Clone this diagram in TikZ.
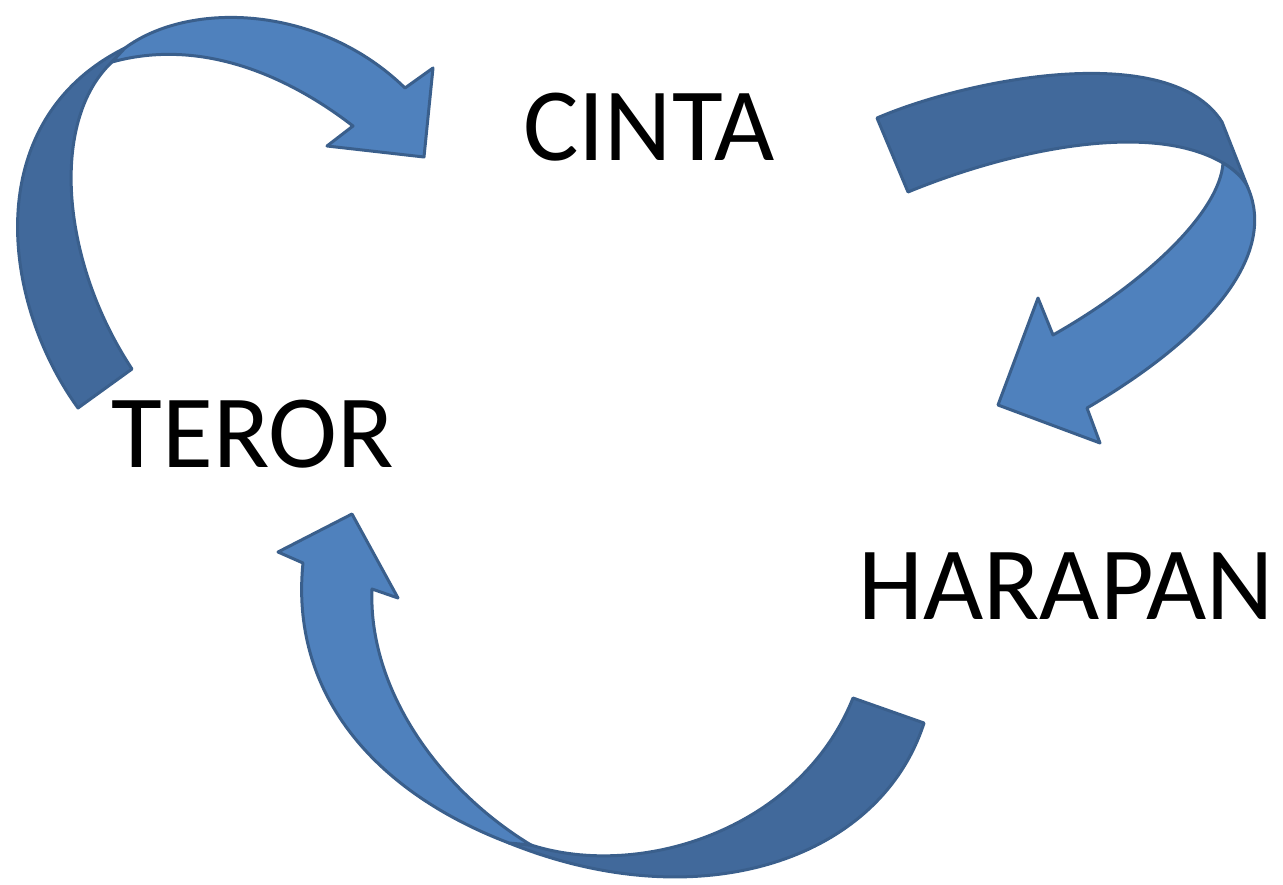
\documentclass[tikz,border=0pt]{standalone}
\usepackage{fontspec}
\setmainfont{Carlito}
\begin{document}
\begin{tikzpicture}[x=1pt,y=-1pt,
  darkpart/.style={fill=arrowdark,draw=arrowline,line width=3pt,line join=round},
  lightpart/.style={fill=arrowlight,draw=arrowline,line width=3pt,line join=round},
  word/.style={font=\fontsize{104}{110}\selectfont,inner sep=0pt,text=black}]
\definecolor{arrowlight}{HTML}{4F81BD}
\definecolor{arrowdark}{HTML}{41699B}
\definecolor{arrowline}{HTML}{3A5F8C}
\useasboundingbox (0,0) rectangle (1283,884);
% texts
\node[word] (cinta) at (649,127) {CINTA};
\node[word] (teror) at (253,434) {TEROR};
\node[word] (harapan) at (1066,586) {HARAPAN};
% arrow 1: TEROR -> CINTA
\draw[darkpart] (78,408) .. controls (0,300) and (-20,120) .. (125,48)
  -- (112,62) .. controls (50,120) and (60,260) .. (132,369) -- cycle;
\draw[lightpart] (125,48) .. controls (190,0) and (320,5) .. (405,88)
  -- (433,68) -- (424,157) -- (327,146) -- (353,126)
  .. controls (300,85) and (210,35) .. (112,62) -- cycle;
% arrow 2: CINTA -> HARAPAN
\draw[darkpart] (877,118) .. controls (970,78) and (1170,40) .. (1222,122)
  -- (1248,188) .. controls (1245,180) and (1235,170) .. (1223,163)
  .. controls (1150,120) and (1010,150) .. (908,192) -- cycle;
\draw[lightpart] (1223,163) .. controls (1235,170) and (1245,180) .. (1248,188)
  .. controls (1275,250) and (1220,330) .. (1087,408)
  -- (1100,443) -- (998,405) -- (1038,298) -- (1053,335)
  .. controls (1150,280) and (1220,210) .. (1223,163) -- cycle;
% arrow 3: HARAPAN -> TEROR
\draw[darkpart] (924,723) .. controls (880,860) and (700,920) .. (509,843)
  -- (531,845) .. controls (640,880) and (800,830) .. (853,698) -- cycle;
\draw[lightpart] (509,843) .. controls (370,790) and (290,690) .. (303,563)
  -- (278,552) -- (352,514) -- (398,598) -- (372,589)
  .. controls (368,690) and (440,790) .. (531,845) -- cycle;
\end{tikzpicture}
\end{document}
